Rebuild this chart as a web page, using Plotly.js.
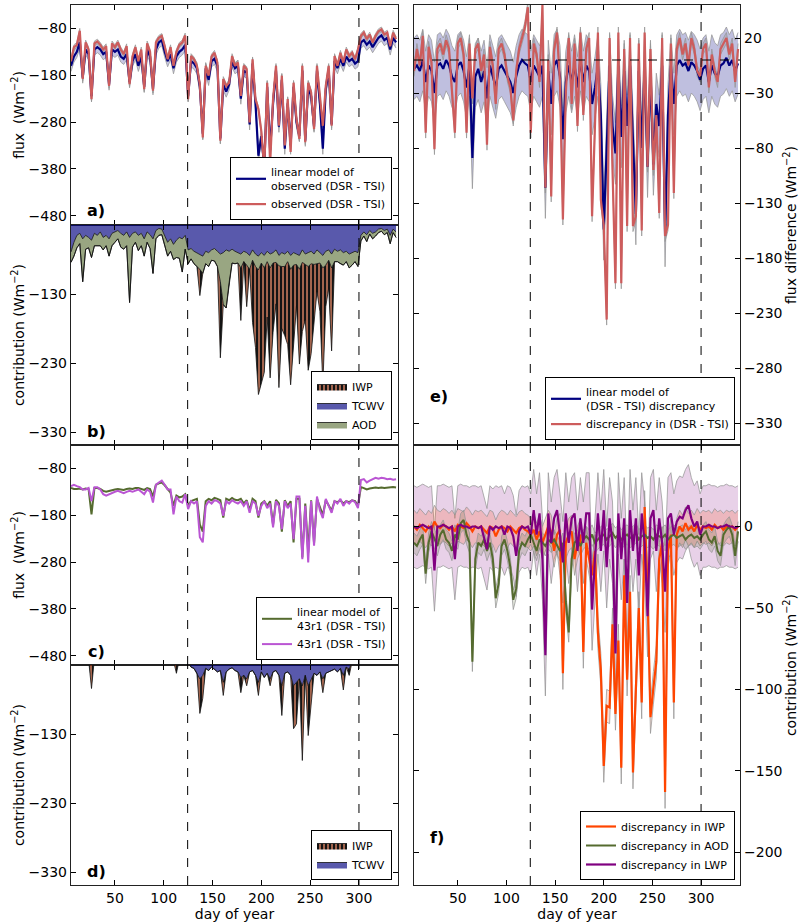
<!DOCTYPE html>
<html><head><meta charset="utf-8">
<script src="https://cdn.plot.ly/plotly-3.0.1.min.js"></script>
<style>html,body{margin:0;padding:0;background:#fff}#chart{width:799px;height:924px}</style>
</head><body><div id="chart"></div>
<script>
// ---------- data (day of year, every 3 days) ----------
const days = [5,8,11,14,17,20,23,26,29,32, 35,38,41,44,47,50,53,56,59,62,
 65,68,71,74,77,80,83,86,89,92, 95,98,101,104,107,110,113,116,119,122,
 125,128,131,134,137,140,143,146,149,152, 155,158,161,164,167,170,173,176,179,182,
 185,188,191,194,197,200,203,206,209,212, 215,218,221,224,227,230,233,236,239,242,
 245,248,251,254,257,260,263,266,269,272, 275,278,281,284,287,290,293,296,299,302,
 305,308,311,314,317,320,323,326,329,332, 335,338];
const xTickVals = [50,100,150,200,250,300];
const seasonBounds = [124.5, 300];

// panel a: observed (DSR - TSI) and its linear model
const obsA = [-150,-120,-115,-85,-188,-110,-125,-231,-112,-108,
 -115,-125,-118,-203,-112,-120,-110,-125,-135,-118,
 -199,-140,-120,-150,-125,-210,-112,-130,-213,-110,
 -100,-96,-118,-146,-120,-160,-130,-115,-110,-95,
 -231,-139,-146,-160,-200,-313,-160,-181,-140,-132,
 -153,-320,-188,-203,-196,-139,-160,-153,-224,-160,
 -167,-281,-146,-231,-252,-300,-380,-196,-369,-231,
 -160,-288,-181,-330,-231,-344,-196,-274,-316,-160,
 -323,-196,-217,-295,-160,-231,-288,-203,-160,-288,
 -139,-160,-132,-153,-125,-139,-132,-146,-125,-96,
 -89,-103,-93,-110,-96,-86,-82,-93,-89,-118,
 -89,-103];
const modelA = [-160,-140,-130,-110,-185,-125,-135,-225,-125,-120,
 -125,-135,-130,-200,-125,-130,-125,-140,-145,-135,
 -195,-150,-135,-160,-140,-205,-125,-140,-210,-125,
 -110,-105,-130,-150,-135,-165,-140,-130,-125,-115,
 -225,-150,-155,-165,-205,-305,-165,-190,-150,-145,
 -160,-315,-200,-215,-200,-150,-165,-160,-230,-170,
 -175,-285,-155,-240,-352,-310,-375,-205,-340,-240,
 -170,-290,-190,-337,-240,-330,-205,-280,-310,-170,
 -320,-205,-225,-290,-170,-240,-337,-210,-170,-285,
 -150,-165,-145,-160,-140,-150,-145,-155,-150,-110,
 -105,-115,-108,-120,-110,-100,-95,-105,-100,-125,
 -100,-110];

// panel b: contributions to the linear model of observed (stacked)
const bTCWV = [-69,-55,-45,-42,-50,-45,-48,-52,-42,-45,
 -40,-48,-45,-50,-42,-40,-38,-42,-45,-40,
 -48,-42,-40,-45,-42,-50,-40,-44,-50,-38,
 -35,-36,-45,-55,-50,-58,-52,-48,-50,-45,
 -66,-64,-68,-70,-72,-75,-68,-70,-66,-64,
 -68,-72,-70,-66,-68,-65,-68,-70,-72,-68,
 -70,-74,-66,-72,-75,-70,-74,-68,-72,-70,
 -66,-74,-70,-72,-68,-74,-70,-72,-74,-66,
 -72,-70,-68,-72,-66,-70,-74,-68,-66,-72,
 -65,-68,-66,-70,-68,-72,-70,-68,-70,-45,
 -40,-44,-38,-42,-40,-36,-35,-38,-36,-45,
 -36,-40];
const bAOD = [-15,-20,-18,-15,-62,-20,-15,-25,-18,-15,
 -20,-18,-15,-25,-18,-15,-12,-20,-20,-20,
 -94,-20,-15,-22,-18,-25,-15,-20,-50,-12,
 -10,-8,-15,-20,-18,-22,-25,-30,-48,-20,
 -20,-15,-18,-20,-22,-25,-18,-20,-15,-18,
 -22,-40,-75,-84,-45,-20,-18,-15,-20,-15,
 -18,-20,-15,-18,-20,-15,-18,-15,-20,-15,
 -18,-15,-20,-18,-15,-20,-18,-15,-20,-18,
 -15,-20,-18,-15,-20,-15,-18,-20,-15,-20,
 -18,-15,-20,-18,-15,-20,-18,-15,-20,-8,
 -6,-10,-5,-8,-6,-5,-4,-6,-5,-12,
 -5,-8];
const bIWP = [0,0,0,0,0,0,0,0,0,0,
 0,0,0,0,0,0,0,0,0,0,
 0,0,0,0,0,0,0,0,0,0,
 0,0,0,0,0,0,0,0,0,0,
 0,0,0,0,-38,0,0,0,0,0,
 0,-110,0,0,0,0,0,0,-76,0,
 -60,0,-90,-117,-180,-175,-151,-80,-159,-100,
 -60,-176,-90,-100,-120,-167,-120,-60,-137,-100,
 -80,-150,-130,-80,-40,-70,-169,-60,-40,-120,
 0,0,0,0,0,0,0,0,0,0,
 0,0,0,0,0,0,0,0,0,0,
 0,0];

// panel c: 43r1 (DSR - TSI) and its linear model
const c43r1 = [-118,-115,-118,-120,-125,-125,-122,-150,-120,-120,
 -125,-135,-138,-135,-132,-130,-128,-130,-133,-130,
 -128,-130,-128,-125,-130,-135,-125,-130,-153,-115,
 -110,-106,-115,-125,-125,-178,-140,-150,-153,-135,
 -167,-150,-155,-150,-227,-238,-160,-150,-155,-148,
 -150,-155,-181,-150,-155,-148,-152,-155,-150,-160,
 -150,-175,-150,-155,-181,-160,-150,-165,-155,-206,
 -150,-160,-210,-150,-165,-155,-231,-140,-140,-274,
 -160,-281,-150,-245,-140,-170,-186,-145,-160,-175,
 -150,-155,-145,-160,-150,-155,-148,-152,-165,-105,
 -103,-110,-106,-103,-100,-102,-100,-101,-103,-102,
 -104,-103];
const cModel = [-122,-124,-124,-123,-125,-123,-124,-178,-122,-122,
 -124,-128,-130,-128,-126,-125,-124,-125,-126,-124,
 -123,-124,-122,-122,-124,-126,-122,-124,-140,-115,
 -112,-110,-116,-125,-132,-160,-138,-142,-140,-135,
 -160,-150,-148,-145,-200,-215,-150,-145,-148,-143,
 -145,-148,-185,-145,-148,-143,-147,-148,-145,-155,
 -148,-170,-145,-150,-185,-155,-150,-160,-150,-200,
 -147,-155,-215,-148,-160,-150,-238,-145,-145,-270,
 -155,-260,-148,-240,-145,-165,-180,-148,-158,-170,
 -150,-152,-148,-155,-150,-152,-148,-150,-160,-120,
 -122,-125,-123,-122,-121,-122,-121,-122,-121,-121,
 -120,-121];

// panel d: contributions to the linear model of 43r1 (stacked)
const dTCWV = [-22,-20,-18,-19,-21,-20,-22,-24,-20,-19,
 -18,-20,-21,-22,-20,-19,-18,-20,-21,-19,
 -20,-21,-19,-20,-22,-21,-20,-19,-21,-18,
 -17,-18,-20,-22,-21,-24,-26,-22,-23,-21,
 -28,-33,-35,-42,-50,-45,-35,-38,-33,-36,
 -40,-38,-55,-40,-36,-34,-38,-40,-48,-45,
 -50,-40,-38,-45,-55,-40,-48,-42,-50,-40,
 -38,-45,-60,-42,-40,-45,-60,-55,-50,-60,
 -45,-60,-50,-42,-45,-40,-50,-42,-40,-38,
 -36,-40,-35,-45,-33,-36,-25,-22,-20,-24,
 -18,-17,-19,-18,-20,-17,-18,-19,-17,-18,
 -20,-18];
const dIWP = [0,0,0,0,0,0,0,-40,0,0,
 0,0,0,0,0,0,0,0,0,0,
 0,0,0,0,0,0,0,0,0,0,
 0,0,0,0,0,0,-16,0,0,0,
 0,0,0,0,-50,-33,0,0,0,0,
 0,0,-19,0,0,0,0,0,-22,0,
 -10,0,0,0,-19,0,0,0,-10,0,
 0,0,-43,0,0,0,-62,-60,0,-108,
 0,-72,-40,0,0,0,-20,0,0,0,
 0,0,0,-21,0,-9,0,0,0,0,
 0,0,0,0,0,0,0,0,0,0,
 0,0];

// panel e: discrepancy in (DSR - TSI) and its linear model
const eDisc = [-10,10,-5,22,-66,12,-2,-81,10,15,
 5,18,10,-30,-66,15,20,5,-66,15,
 -35,10,15,-10,5,-77,12,-5,-40,10,
 15,5,-15,-25,-55,-10,10,20,30,48,
 -66,15,5,-20,50,-116,0,-124,10,25,
 -20,-145,-30,20,-40,15,-60,25,-50,10,
 20,-142,-60,25,-127,-150,-236,20,-100,-203,
 25,-203,10,-151,20,-151,-142,15,-155,25,
 -97,10,-100,-50,-139,20,-160,-150,15,-121,
 10,20,5,15,-5,20,10,-10,-15,10,
 15,-25,5,-10,-20,10,15,20,5,15,
 -20,10];
const eModel = [-8,-5,-10,0,-20,-5,-10,-30,-5,-3,
 -8,0,-5,-15,-20,-5,-2,-10,-25,-5,
 -89,-15,-8,-20,-10,-35,-5,-15,-25,-8,
 -5,-10,-15,-20,-30,-15,-5,0,-3,-5,
 -20,-5,-10,-15,-5,-116,-10,-40,-5,0,
 -15,-72,-20,-5,-20,-5,-25,0,-20,-5,
 -10,-40,-25,-5,-50,-154,-80,-5,-60,-85,
 -5,-70,-10,-60,-5,-70,-140,-10,-80,-5,
 -97,-10,-95,-40,-60,-5,-160,-50,-5,-40,
 -5,0,-5,-3,-10,-2,-5,-10,-18,-8,
 -5,-20,-5,-12,-15,-5,-3,2,-5,0,
 -10,-3];

// panel f: discrepancy contributions
const fIWP = [0,-2,1,-1,-3,0,-2,3,0,-1,
 1,0,-2,0,-3,1,0,-1,2,0,
 -3,0,-1,0,-2,-4,0,-1,-6,-2,
 0,-1,-3,0,-2,-4,-1,0,-2,-3,
 -5,-2,-8,-3,-10,-5,0,-3,-15,-5,
 -2,-90,-10,-5,-3,-20,-10,-5,-77,-10,
 -20,-30,-15,-65,-88,-147,-110,-111,-60,-115,
 -70,-148,-30,-94,-40,-151,-100,-50,-108,12,
 -40,-117,-99,-83,-20,-10,-163,-15,-5,-108,
 -5,0,-3,2,-2,0,-3,1,-2,0,
 -1,0,-2,1,-1,0,-2,0,-1,0,
 -2,0];
const fAOD = [-10,-12,-8,-5,-29,-10,-3,-8,-12,-5,
 -2,-8,-10,-15,-5,-8,2,4,-5,-10,
 -83,-20,-10,-12,-8,-15,-10,-20,-44,-35,
 -12,-8,-15,-25,-45,-38,-15,-10,-12,-8,
 -5,-10,-15,-8,-10,-12,-8,-10,-8,-12,
 -15,-10,-46,-65,-20,-10,-8,-12,-8,-6,
 -8,-5,-10,-8,-6,-5,-8,-6,-4,-7,
 -5,-8,-6,-5,-7,-6,-4,-8,-6,-5,
 -7,-6,-8,-5,-6,-7,-5,-8,-6,-5,
 -7,-6,-5,-8,-6,-5,-7,-6,-8,-5,
 -3,-8,-10,-6,-15,-18,-5,-2,0,-5,
 -18,-3];
const fLWP = [0,-1,0,1,0,-1,0,-27,0,0,
 1,0,-1,0,-20,0,1,0,0,-1,
 0,0,-1,0,-8,-14,0,-2,0,-1,
 0,-5,0,-1,-6,-18,-3,0,-1,0,
 -5,10,-5,8,-20,-79,8,-10,5,10,
 -5,-22,8,-10,5,8,-15,5,-10,8,
 8,-51,-20,8,-15,10,-25,5,-10,-78,
 8,-20,5,-47,10,-15,5,-30,8,-10,
 -55,5,10,-15,5,-10,-40,5,8,-5,
 3,6,5,10,13,5,0,3,-5,0,
 0,1,0,0,-1,0,0,1,0,0,
 -1,0];

// uncertainty half-widths of the shaded envelopes
const uModelA = 12, uObsA = 5, uModelE = 28, uDiscE = 5, uLWP = 25, uIWP = 10, uAOD = 6;

// ---------- styling ----------
const W = 799, H = 924;
const RED = '#cd5c5c', NAVY = '#000080', OLIVE = '#556b2f', ORCHID = '#ba55d3',
      ORANGE = '#ff4500', PURPLE = '#800080', EDGE = 'rgba(150,150,150,0.75)';

function band(vals, u, xa, ya, fill) {
  const lo = vals.map(v => v - u), hi = vals.map(v => v + u);
  return [
    {x: days, y: lo, xaxis: xa, yaxis: ya, mode: 'lines', line: {color: EDGE, width: 1}, showlegend: false, hoverinfo: 'skip'},
    {x: days, y: hi, xaxis: xa, yaxis: ya, mode: 'lines', line: {color: EDGE, width: 1}, fill: 'tonexty', fillcolor: fill, showlegend: false, hoverinfo: 'skip'}
  ];
}
function line(y, xa, ya, name, color, width, legend, rank) {
  return {x: days, y: y, xaxis: xa, yaxis: ya, mode: 'lines', name: name, line: {color: color, width: width}, legend: legend, legendrank: rank};
}
function stack(y, xa, ya, name, fill, group, legend, rank, pattern) {
  const t = {x: days, y: y, xaxis: xa, yaxis: ya, mode: 'lines', name: name, stackgroup: group,
          line: {color: '#111', width: 0.8}, fillcolor: fill, legend: legend, legendrank: rank};
  if (pattern) t.fillpattern = {shape: '|', fgcolor: '#141414', bgcolor: 'rgba(255,69,0,0.55)', size: 4, solidity: 0.7};
  return t;
}

const traces = [].concat(
  // a
  band(modelA, uModelA, 'x', 'y', 'rgba(0,0,128,0.22)'),
  band(obsA, uObsA, 'x', 'y', 'rgba(150,150,150,0.35)'),
  [line(modelA, 'x', 'y', 'linear model of<br>observed (DSR - TSI)', NAVY, 2.2, 'legend', 1),
   line(obsA, 'x', 'y', 'observed (DSR - TSI)', RED, 2.2, 'legend', 2)],
  // b
  [stack(bTCWV, 'x2', 'y2', 'TCWV', 'rgba(0,0,128,0.65)', 'b', 'legend2', 2, false),
   stack(bAOD, 'x2', 'y2', 'AOD', 'rgba(85,107,47,0.6)', 'b', 'legend2', 3, false),
   stack(bIWP, 'x2', 'y2', 'IWP', ORANGE, 'b', 'legend2', 1, true)],
  // c
  [line(cModel, 'x3', 'y3', 'linear model of<br>43r1 (DSR - TSI)', OLIVE, 2, 'legend3', 1),
   line(c43r1, 'x3', 'y3', '43r1 (DSR - TSI)', ORCHID, 2, 'legend3', 2)],
  // d
  [stack(dTCWV, 'x4', 'y4', 'TCWV', 'rgba(0,0,128,0.65)', 'd', 'legend4', 2, false),
   stack(dIWP, 'x4', 'y4', 'IWP', ORANGE, 'd', 'legend4', 1, true)],
  // e
  band(eModel, uModelE, 'x5', 'y5', 'rgba(0,0,128,0.25)'),
  band(eDisc, uDiscE, 'x5', 'y5', 'rgba(150,150,150,0.35)'),
  [line(eModel, 'x5', 'y5', 'linear model of<br>(DSR - TSI) discrepancy', NAVY, 2.2, 'legend5', 1),
   line(eDisc, 'x5', 'y5', 'discrepancy in (DSR - TSI)', RED, 2.2, 'legend5', 2)],
  // f
  band(fLWP, uLWP, 'x6', 'y6', 'rgba(128,0,128,0.18)'),
  band(fIWP, uIWP, 'x6', 'y6', 'rgba(255,69,0,0.18)'),
  band(fAOD, uAOD, 'x6', 'y6', 'rgba(85,107,47,0.18)'),
  [line(fIWP, 'x6', 'y6', 'discrepancy in IWP', ORANGE, 2.2, 'legend6', 1),
   line(fAOD, 'x6', 'y6', 'discrepancy in AOD', OLIVE, 2, 'legend6', 2),
   line(fLWP, 'x6', 'y6', 'discrepancy in LWP', PURPLE, 2.2, 'legend6', 3)]
);

const axBase = {ticks: 'inside', ticklen: 5, tickwidth: 1, tickcolor: '#000', showline: true,
  linecolor: '#222', linewidth: 1.2, mirror: 'ticks', showgrid: false, zeroline: false,
  tickfont: {size: 14, color: '#000'}, automargin: false};
const LX = [71 / W, 398 / W], RX = [414 / W, 740 / W];
const row = (t, b) => [1 - b / H, 1 - t / H];
function xax(dom, anchor, labels) {
  const o = Object.assign({}, axBase, {domain: dom, anchor: anchor, range: [5, 340], tickvals: xTickVals, showticklabels: labels});
  if (labels) o.title = {text: 'day of year', font: {size: 14, color: '#000'}, standoff: 2};
  return o;
}
function yax(dom, anchor, range, tv, side, title) {
  return Object.assign({}, axBase, {domain: dom, anchor: anchor, range: range, tickvals: tv, side: side,
    title: {text: title, font: {size: 14, color: '#000'}}});
}
const unit = ' (Wm<sup>\u22122</sup>)';
const fluxT = [-480, -380, -280, -180, -80], contT = [-330, -230, -130];
const legBase = {bgcolor: '#fff', bordercolor: '#000', borderwidth: 1, font: {size: 11, color: '#000'},
  xanchor: 'right', yanchor: 'bottom', traceorder: 'normal', tracegroupgap: 0};

const shapes = [];
for (let p = 1; p <= 6; p++) {
  const xr = p === 1 ? 'x' : 'x' + p, yr = p === 1 ? 'y domain' : 'y' + p + ' domain';
  seasonBounds.forEach(d => shapes.push({type: 'line', xref: xr, yref: yr, x0: d, x1: d, y0: 0, y1: 1,
    line: {color: '#000', width: 1, dash: 'dash'}, layer: 'above'}));
}
shapes.push({type: 'line', xref: 'x5 domain', yref: 'y5', x0: 0, x1: 1, y0: 0, y1: 0,
  line: {color: '#000', width: 1, dash: 'dash'}, layer: 'above'});

const panelLabels = [['a)', 95.5, 211], ['b)', 96.5, 431], ['c)', 96.5, 651], ['d)', 96.5, 871], ['e)', 439, 397], ['f)', 437, 837]];
const annotations = panelLabels.map(([t, x, y]) => ({text: '<b>' + t + '</b>', xref: 'paper', yref: 'paper',
  x: x / W, y: 1 - y / H, xanchor: 'center', yanchor: 'middle', showarrow: false, font: {size: 16, color: '#000'}}));

const layout = {
  width: W, height: H, margin: {l: 0, r: 0, t: 0, b: 0}, paper_bgcolor: '#fff', plot_bgcolor: '#fff',
  font: {family: 'DejaVu Sans, sans-serif', size: 14, color: '#000'},
  xaxis: xax(LX, 'y', false), yaxis: yax(row(5, 225), 'x', [-500, -30], fluxT, 'left', 'flux\u00a0 (Wm<sup>\u22122</sup>)'),
  xaxis2: xax(LX, 'y2', false), yaxis2: yax(row(225, 445), 'x2', [-348, -30], contT, 'left', 'contribution' + unit),
  xaxis3: xax(LX, 'y3', false), yaxis3: yax(row(445, 665), 'x3', [-500, -30], fluxT, 'left', 'flux\u00a0 (Wm<sup>\u22122</sup>)'),
  xaxis4: xax(LX, 'y4', true), yaxis4: yax(row(665, 885), 'x4', [-348, -30], contT, 'left', 'contribution' + unit),
  xaxis5: xax(RX, 'y5', false), yaxis5: yax(row(5, 445), 'x5', [-350, 50], [20, -30, -80, -130, -180, -230, -280, -330], 'right', 'flux difference' + unit),
  xaxis6: xax(RX, 'y6', true), yaxis6: yax(row(445, 885), 'x6', [-220, 50], [0, -50, -100, -150, -200], 'right', 'contribution' + unit),
  legend: Object.assign({}, legBase, {x: 392 / W, y: 1 - 220 / H}),
  legend2: Object.assign({}, legBase, {x: 392 / W, y: 1 - 440 / H}),
  legend3: Object.assign({}, legBase, {x: 392 / W, y: 1 - 660 / H}),
  legend4: Object.assign({}, legBase, {x: 392 / W, y: 1 - 880 / H}),
  legend5: Object.assign({}, legBase, {x: 735 / W, y: 1 - 440 / H}),
  legend6: Object.assign({}, legBase, {x: 735 / W, y: 1 - 880 / H}),
  shapes: shapes, annotations: annotations, showlegend: true
};
Plotly.newPlot('chart', traces, layout, {staticPlot: true, displayModeBar: false});
</script></body></html>
